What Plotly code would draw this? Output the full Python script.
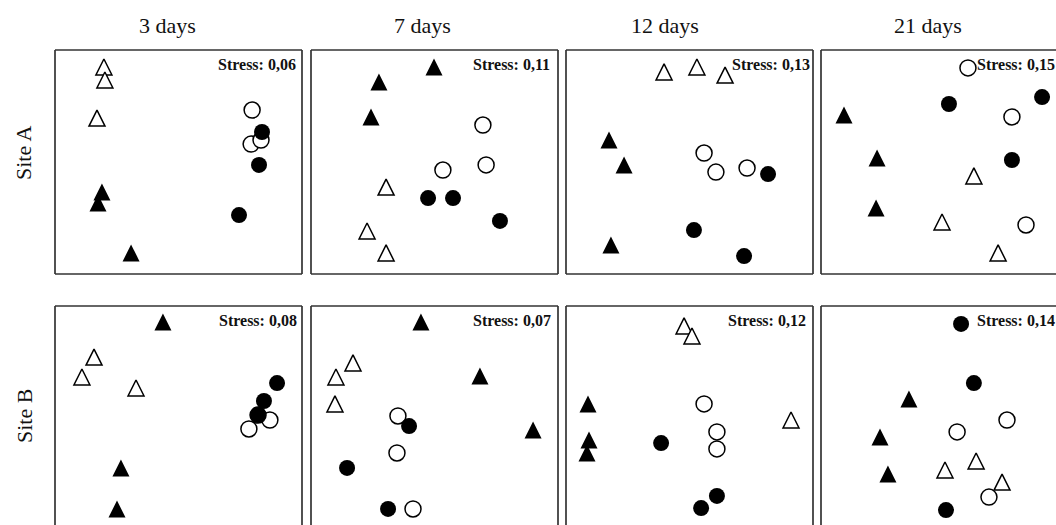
import plotly.graph_objects as go

# ---------------- data ----------------
DAYS = ["3 days", "7 days", "12 days", "21 days"]
SITES = ["Site A", "Site B"]
STRESS_A = ["0,06", "0,11", "0,13", "0,15"]
STRESS_B = ["0,08", "0,07", "0,12", "0,14"]

# marker group of each of the 12 samples in every panel
GROUPS = ["open_tri", "open_tri", "open_tri",
          "open_circ", "open_circ", "open_circ",
          "fill_tri", "fill_tri", "fill_tri",
          "fill_circ", "fill_circ", "fill_circ"]

# NMDS scores (panel-scaled) for Site A
A3_x = [0.198, 0.202, 0.170, 0.798, 0.794, 0.834, 0.190, 0.174, 0.308, 0.838, 0.826, 0.745]
A3_y = [0.924, 0.866, 0.696, 0.732, 0.580, 0.598, 0.366, 0.317, 0.094, 0.634, 0.487, 0.263]
A7_x = [0.304, 0.227, 0.304, 0.696, 0.534, 0.709, 0.498, 0.275, 0.243, 0.474, 0.575, 0.765]
A7_y = [0.388, 0.192, 0.094, 0.665, 0.464, 0.487, 0.924, 0.857, 0.701, 0.339, 0.339, 0.237]
A12_x = [0.397, 0.530, 0.644, 0.559, 0.607, 0.733, 0.174, 0.235, 0.182, 0.818, 0.518, 0.721]
A12_y = [0.902, 0.924, 0.888, 0.540, 0.455, 0.473, 0.598, 0.487, 0.129, 0.446, 0.196, 0.080]
A21_x = [0.619, 0.490, 0.717, 0.595, 0.773, 0.830, 0.093, 0.227, 0.223, 0.518, 0.895, 0.773]
A21_y = [0.438, 0.232, 0.094, 0.920, 0.701, 0.219, 0.710, 0.518, 0.295, 0.759, 0.790, 0.509]

# NMDS scores (panel-scaled) for Site B
B3_x = [0.158, 0.109, 0.328, 0.785, 0.870, 0.822, 0.437, 0.267, 0.251, 0.899, 0.846, 0.822]
B3_y = [0.772, 0.683, 0.634, 0.451, 0.491, 0.513, 0.929, 0.277, 0.094, 0.656, 0.576, 0.513]
B7_x = [0.170, 0.101, 0.097, 0.352, 0.348, 0.413, 0.445, 0.684, 0.899, 0.397, 0.146, 0.312]
B7_y = [0.746, 0.683, 0.563, 0.509, 0.344, 0.094, 0.929, 0.688, 0.446, 0.464, 0.277, 0.094]
B12_x = [0.478, 0.510, 0.911, 0.559, 0.611, 0.611, 0.089, 0.093, 0.085, 0.385, 0.611, 0.547]
B12_y = [0.911, 0.866, 0.491, 0.563, 0.438, 0.362, 0.563, 0.402, 0.344, 0.388, 0.152, 0.098]
B21_x = [0.502, 0.628, 0.733, 0.551, 0.753, 0.680, 0.356, 0.239, 0.271, 0.567, 0.619, 0.506]
B21_y = [0.268, 0.308, 0.214, 0.438, 0.491, 0.147, 0.585, 0.415, 0.250, 0.920, 0.656, 0.089]

PANELS = [[(A3_x, A3_y), (A7_x, A7_y), (A12_x, A12_y), (A21_x, A21_y)],
          [(B3_x, B3_y), (B7_x, B7_y), (B12_x, B12_y), (B21_x, B21_y)]]
STRESS = [STRESS_A, STRESS_B]

# ---------------- layout geometry (pixels) ----------------
W, H = 1056, 525
COL_LEFT = [55, 311, 566, 821]
PW, PH = 247, 224
ROW_TOP = [50, 306]
TITLE_X = [167, 422, 665, 928]
STRESS_LEFT = [[216, 471, 730, 975], [217, 471, 726, 975]]
STRESS_Y = [64, 320]
SITE_Y = [153, 416]

# "arrow-down" rotated 180 deg gives an upward triangle whose width equals its
# height; a standoff of half the size centres it on the data point.
TRI = 17
STYLE = {
    "open_tri": dict(symbol="arrow-down", size=TRI - 1, color="white", angle=180,
                     standoff=(TRI - 1) / 2, line=dict(color="black", width=1.5)),
    "open_circ": dict(symbol="circle", size=16, color="white",
                      line=dict(color="black", width=1.5)),
    "fill_tri": dict(symbol="arrow-down", size=TRI, color="black", angle=180,
                     standoff=TRI / 2, line=dict(color="black", width=0)),
    "fill_circ": dict(symbol="circle", size=16, color="black",
                      line=dict(color="black", width=0)),
}
ORDER = ["open_tri", "open_circ", "fill_tri", "fill_circ"]

fig = go.Figure()
layout = dict(width=W, height=H, margin=dict(l=0, r=0, t=0, b=0),
              paper_bgcolor="white", plot_bgcolor="white", showlegend=False)
shapes, annotations = [], []
LINE = dict(color="#333333", width=1.7)

for r in range(2):
    for c in range(4):
        k = r * 4 + c + 1
        sx = "" if k == 1 else str(k)
        left, top = COL_LEFT[c], ROW_TOP[r]
        right, bottom = left + PW, top + PH
        vis_right, vis_bottom = min(right, W), min(bottom, H)
        xr = [0, (vis_right - left) / PW]
        yr = [(bottom - vis_bottom) / PH, 1]
        layout["xaxis" + sx] = dict(domain=[left / W, vis_right / W], range=xr,
                                    visible=False, fixedrange=True, anchor="y" + sx)
        layout["yaxis" + sx] = dict(domain=[1 - vis_bottom / H, 1 - top / H], range=yr,
                                    visible=False, fixedrange=True, anchor="x" + sx)
        xs, ys = PANELS[r][c]
        for g in ORDER:
            px = [x for x, gg in zip(xs, GROUPS) if gg == g]
            py = [y for y, gg in zip(ys, GROUPS) if gg == g]
            fig.add_trace(go.Scatter(x=px, y=py, mode="markers", marker=STYLE[g],
                                     xaxis="x" + sx, yaxis="y" + sx,
                                     cliponaxis=False, hoverinfo="skip"))
        xd, yd = "x" + sx + " domain", "y" + sx + " domain"
        shapes.append(dict(type="line", xref=xd, yref=yd, x0=0, x1=0, y0=0, y1=1, line=LINE))
        shapes.append(dict(type="line", xref=xd, yref=yd, x0=0, x1=1, y0=1, y1=1, line=LINE))
        if right <= W:
            shapes.append(dict(type="line", xref=xd, yref=yd, x0=1, x1=1, y0=0, y1=1, line=LINE))
        if bottom <= H:
            shapes.append(dict(type="line", xref=xd, yref=yd, x0=0, x1=1, y0=0, y1=0, line=LINE))
        annotations.append(dict(xref="paper", yref="paper",
                                x=STRESS_LEFT[r][c] / W, y=1 - STRESS_Y[r] / H,
                                xanchor="left", yanchor="middle", showarrow=False,
                                text="<b>Stress: " + STRESS[r][c] + "</b>",
                                font=dict(family="Liberation Serif", size=16, color="#111")))

for c, t in enumerate(DAYS):
    annotations.append(dict(xref="paper", yref="paper", x=TITLE_X[c] / W, y=1 - 25 / H,
                            xanchor="center", yanchor="middle", showarrow=False, text=t,
                            font=dict(family="Liberation Serif", size=22, color="#111")))
for r, s in enumerate(SITES):
    annotations.append(dict(xref="paper", yref="paper", x=24 / W, y=1 - SITE_Y[r] / H,
                            xanchor="center", yanchor="middle", showarrow=False, text=s,
                            textangle=-90,
                            font=dict(family="Liberation Serif", size=22, color="#111")))

layout["shapes"] = shapes
layout["annotations"] = annotations
fig.update_layout(**layout)
fig.write_html("out.html", config={"displayModeBar": False},
               post_script="document.body.style.margin='0';"
                           "document.body.style.overflow='hidden';"
                           "document.documentElement.style.overflow='hidden';")
